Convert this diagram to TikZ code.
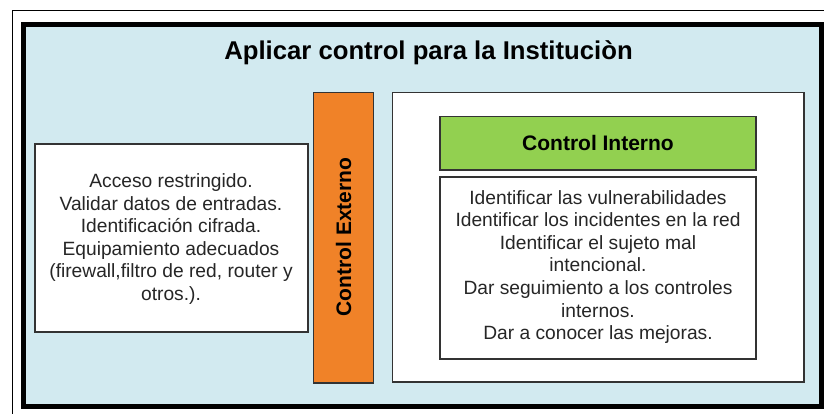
\documentclass[tikz,border=0pt]{standalone}
\usepackage{fontspec}
\setmainfont{Liberation Sans}
\definecolor{bgblue}{HTML}{D2EAF0}
\definecolor{orng}{HTML}{F08228}
\definecolor{grn}{HTML}{92D050}
\begin{document}
\begin{tikzpicture}[x=1pt,y=-1pt,
  boxw/.style={draw=black!80,line width=1.2pt,fill=white},
  body/.style={align=center,font=\fontsize{19.2}{22.6}\selectfont,text=black!85},
  bold/.style={font=\bfseries\fontsize{21}{24}\selectfont}]
\useasboundingbox (0,0) rectangle (824,414);
\fill[white] (0,0) rectangle (824,414);
% outer thin frame
\draw[line width=1.4pt] (12.5,424) -- (12.5,10.5) -- (830,10.5);
% main blue box
\draw[line width=4.5pt,fill=bgblue] (23.5,24.5) rectangle (821.5,406.5);
\node[font=\bfseries\fontsize{25.7}{28}\selectfont] (title) at (428.5,53) {Aplicar control para la Instituciòn};
% left box
\draw[boxw] (35,144) rectangle (308,332);
\node[body] (left) at (171,239) {Acceso restringido.\\Validar datos de entradas.\\Identificación cifrada.\\Equipamiento adecuados\\(firewall,filtro de red, router y\\otros.).};
% orange
\draw[draw=black!80,line width=1.2pt,fill=orng] (313.5,92.5) rectangle (373.5,383);
\node[bold,rotate=90] (ext) at (343.5,237) {Control Externo};
% right white
\draw[boxw] (392.5,92.5) rectangle (804,382);
\draw[draw=black!80,line width=1.2pt,fill=grn] (440,116.5) rectangle (756,170);
\node[bold] (int) at (598,143) {Control Interno};
\draw[boxw] (440,177) rectangle (756,359);
\node[body] (right) at (598,267) {Identificar las vulnerabilidades\\Identificar los incidentes en la red\\Identificar el sujeto mal\\intencional.\\Dar seguimiento a los controles\\internos.\\Dar a conocer las mejoras.};
\end{tikzpicture}
\end{document}
